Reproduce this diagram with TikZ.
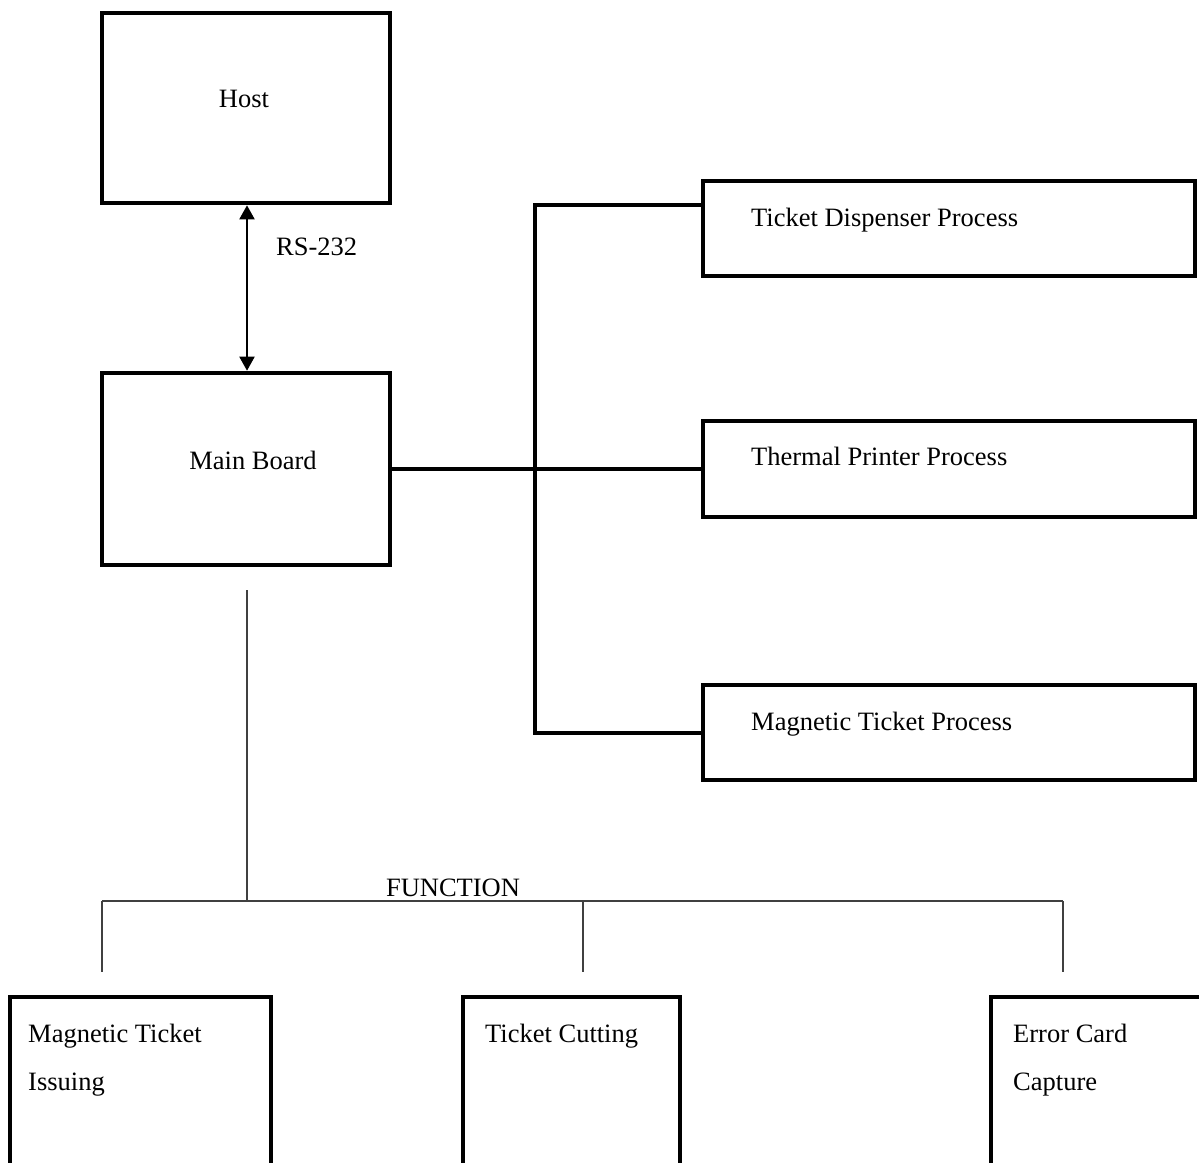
\documentclass[tikz,border=0pt]{standalone}
\usepackage{fontspec}
\setmainfont{Liberation Serif}
\usetikzlibrary{arrows.meta,calc}
\begin{document}
\begin{tikzpicture}[x=1pt,y=-1pt,
  boxline/.style={draw=black,line width=4.6pt},
  busline/.style={draw=black,line width=3.4pt},
  treeline/.style={draw=black!75,line width=1.2pt},
  lbl/.style={font=\fontsize{26.5}{30}\selectfont,inner sep=0pt},
  blk/.style={boxline,inner sep=0pt,outer sep=0pt,anchor=north west}]
\useasboundingbox (0,0) rectangle (1199,1162);
% top-left boxes
\node[blk,minimum width=288pt,minimum height=190pt] (host) at (102,13) {};
\node[blk,minimum width=288pt,minimum height=192pt] (mb) at (102,373) {};
\node[lbl] (hostt) at (244,99) {Host};
\node[lbl] (mbt) at (253,460) {Main Board};
\draw[line width=2pt,{Triangle[width=15pt,length=14pt]}-{Triangle[width=15pt,length=14pt]}] ($(host.south)+(1,2.3)$) -- ($(mb.north)+(1,-2.3)$);
\node[lbl,anchor=west] (rs) at (276,247) {RS-232};
% right boxes
\node[blk,minimum width=492pt,minimum height=95pt] (td) at (703,181) {};
\node[blk,minimum width=492pt,minimum height=96pt] (tp) at (703,421) {};
\node[blk,minimum width=492pt,minimum height=95pt] (mt) at (703,685) {};
\node[lbl,anchor=base west] (tdt) at (751,226.5) {Ticket Dispenser Process};
\node[lbl,anchor=base west] (tpt) at (751,465.5) {Thermal Printer Process};
\node[lbl,anchor=base west] (mtt) at (751,730.5) {Magnetic Ticket Process};
% bus
\coordinate (b1) at (535,205);
\coordinate (b3) at (535,733);
\draw[busline] (mt.west |- b3) -- (b3) -- (b1) -- (td.west |- b1);
\draw[busline] (mb.east) -- (tp.west);
% function tree
\coordinate (f0) at (247,901);
\coordinate (fl) at (102,901);
\coordinate (fm) at (583,901);
\coordinate (fr) at (1063,901);
\draw[treeline] ($(mb.south)+(1,25)$) -- (f0);
\draw[treeline] (fl) -- (fr);
\draw[treeline] (fl) -- ++(0,71);
\draw[treeline] (fm) -- ++(0,71);
\draw[treeline] (fr) -- ++(0,71);
\node[lbl,anchor=base] (fn) at (453,896) {FUNCTION};
% bottom boxes (open at bottom)
\node[inner sep=0pt,outer sep=0pt,anchor=north west,minimum width=261pt,minimum height=200pt] (mi) at (10,997) {};
\node[inner sep=0pt,outer sep=0pt,anchor=north west,minimum width=217pt,minimum height=200pt] (tc) at (463,997) {};
\node[inner sep=0pt,outer sep=0pt,anchor=north west,minimum width=240pt,minimum height=200pt] (ec) at (991,997) {};
\draw[boxline] (mi.south west) -- (mi.north west) -- (mi.north east) -- (mi.south east);
\draw[boxline] (tc.south west) -- (tc.north west) -- (tc.north east) -- (tc.south east);
\draw[boxline] (ec.south west) -- (ec.north west) -- (ec.north east);
\node[lbl,anchor=base west] (mi1) at (28,1042) {Magnetic Ticket};
\node[lbl,anchor=base west] (mi2) at (28,1090) {Issuing};
\node[lbl,anchor=base west] (tc1) at (485,1042) {Ticket Cutting};
\node[lbl,anchor=base west] (ec1) at (1013,1042) {Error Card};
\node[lbl,anchor=base west] (ec2) at (1013,1090) {Capture};
\end{tikzpicture}
\end{document}
